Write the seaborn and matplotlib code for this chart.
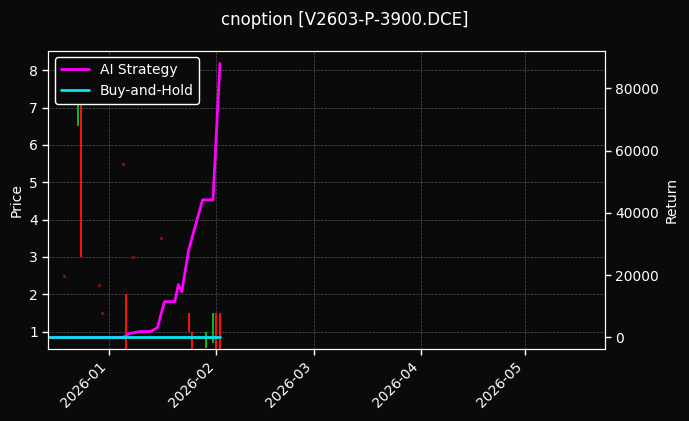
import matplotlib
matplotlib.use("Agg")
import matplotlib.pyplot as plt
import matplotlib.dates as mdates
import seaborn as sns
import pandas as pd

sns.set_style("dark")
plt.rcParams['font.family'] = ['DejaVu Sans']

# candles: date, open, close
c_dates = ["2025-12-19", "2025-12-23", "2025-12-24", "2025-12-29", "2025-12-30",
           "2026-01-05", "2026-01-06", "2026-01-08", "2026-01-16",
           "2026-01-24", "2026-01-25", "2026-01-29", "2026-01-31", "2026-02-01", "2026-02-02"]
c_open  = [2.5, 6.5, 8.0, 2.25, 1.5, 5.5, 2.0, 3.0, 3.5, 1.5, 1.0, 0.55, 0.7, 1.5, 1.5]
c_close = [2.5, 8.2, 3.0, 2.25, 1.5, 5.5, 0.5, 3.0, 3.5, 1.0, 0.5, 1.0, 1.5, 0.5, 0.5]

s_dates = ["2025-12-14 12:00", "2026-01-05 00:00", "2026-01-07 00:00", "2026-01-10 00:00",
           "2026-01-13 00:00", "2026-01-15 00:00", "2026-01-17 00:00", "2026-01-20 00:00",
           "2026-01-21 00:00", "2026-01-22 00:00", "2026-01-24 00:00",
           "2026-01-28 00:00", "2026-01-31 00:00", "2026-02-02 00:00"]
s_ret = [0, 0, 1300, 1900, 1900, 3200, 11500, 11500, 17000, 14700, 28200, 44200, 44200, 88000]

h_dates = ["2025-12-14 12:00", "2026-02-02 00:00"]
h_ret = [0, 0]

bg = "#0a0a0a"
fig, ax = plt.subplots(figsize=(6.89, 4.21), dpi=100)
fig.patch.set_facecolor(bg)
ax.set_facecolor(bg)
ax2 = ax.twinx()

cd = pd.to_datetime(c_dates)
for d, o, c in zip(cd, c_open, c_close):
    col = "#00c020" if c > o else "#ff1010"
    if o == c:
        ax.plot([d], [o], marker="s", ms=1.2, color="#801010", lw=0)
    else:
        ax.vlines(d, min(o, c), max(o, c), color=col, lw=1.4)

df_s = pd.DataFrame({"date": pd.to_datetime(s_dates), "ret": s_ret})
df_h = pd.DataFrame({"date": pd.to_datetime(h_dates), "ret": h_ret})
sns.lineplot(data=df_s, x="date", y="ret", ax=ax2, color="#ff00ff", lw=2, label="AI Strategy", legend=False)
sns.lineplot(data=df_h, x="date", y="ret", ax=ax2, color="#00e5ee", lw=2, label="Buy-and-Hold", legend=False)

ax.set_xlim(pd.Timestamp("2025-12-14 12:00"), pd.Timestamp("2026-05-24"))
ax.set_ylim(0.52, 8.53)
ax2.set_ylim(-3840, 92160)
ax.xaxis.set_major_locator(mdates.MonthLocator())
ax.xaxis.set_major_formatter(mdates.DateFormatter("%Y-%m"))
for lab in ax.get_xticklabels():
    lab.set_rotation(45); lab.set_ha("right")

for a in (ax, ax2):
    a.tick_params(colors="white", labelsize=10, length=4, width=1)
    for sp in a.spines.values():
        sp.set_color("white")
        sp.set_visible(True)
ax.tick_params(axis="both", bottom=True, left=True)
ax2.tick_params(axis="y", right=True)
ax.grid(True, color="#666666", ls="--", lw=0.5, alpha=0.8)
ax.set_xlabel("")
ax2.set_xlabel("")
ax.set_ylabel("Price", color="white")
ax2.set_ylabel("Return", color="white")
fig.suptitle("cnoption [V2603-P-3900.DCE]", color="white", fontsize=12, y=0.975)

h, l = ax2.get_legend_handles_labels()
leg = ax.legend(h, l, loc="upper left", facecolor=bg, edgecolor="white", framealpha=1)
for t in leg.get_texts():
    t.set_color("white")

fig.subplots_adjust(left=0.07, right=0.878, top=0.88, bottom=0.17)
fig.savefig("out.png", facecolor=bg)
